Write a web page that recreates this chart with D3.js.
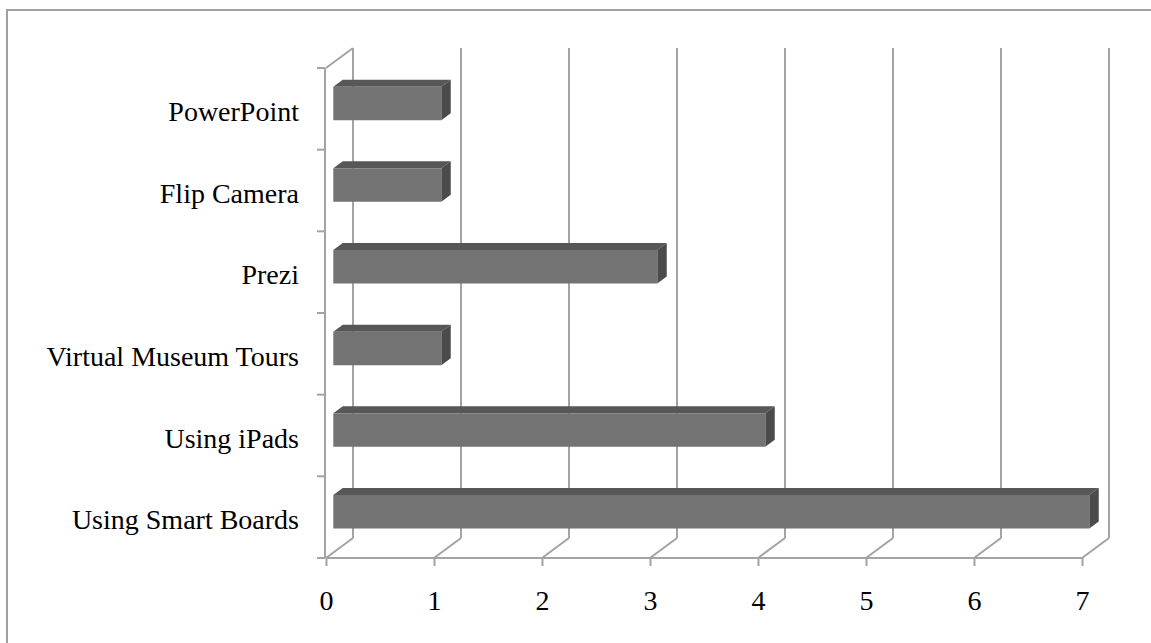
<!DOCTYPE html>
<html>
<head>
<meta charset="utf-8">
<script src="https://cdn.jsdelivr.net/npm/d3@7"></script>
<style>
html,body{margin:0;padding:0;background:#fff;}
svg{display:block;}
text{font-family:"Liberation Serif","Times New Roman",serif;fill:#000;}
</style>
</head>
<body>
<svg id="chart" width="1151" height="643"></svg>
<script>
// Data
const categories = ["PowerPoint","Flip Camera","Prezi","Virtual Museum Tours","Using iPads","Using Smart Boards"];
const values = [1, 1, 3, 1, 4, 7];
const tickValues = [0,1,2,3,4,5,6,7];

const svg = d3.select("#chart");

// layout
const x = d3.scaleLinear().domain([0,7]).range([326,1082]);
const y = d3.scaleBand().domain(categories).range([68,558]).padding(0);
const DX = 27, DY = -20;           // full depth offset (front plane -> back wall)
const z0 = 0.27, z1 = 0.62;          // bar depth span
const barFrac = 0.41;
const gridColor = "#a3a3a3";

const P = (px, py, z) => [px + DX*z, py + DY*z];

// chart border (cropped at right/bottom)
svg.append("rect").attr("x",7).attr("y",10).attr("width",1200).attr("height",700)
  .attr("fill","none").attr("stroke","#a0a0a0").attr("stroke-width",2);

const yTop = y.range()[0], yBot = y.range()[1];
const g = svg.append("g").attr("fill","none").attr("stroke",gridColor).attr("stroke-width",2);

// back wall vertical gridlines + floor diagonals
tickValues.forEach(t => {
  const a = P(x(t), yTop, 1), b = P(x(t), yBot, 1);
  g.append("line").attr("x1",a[0]).attr("y1",a[1]).attr("x2",b[0]).attr("y2",b[1]);
  const c = P(x(t), yBot, 0);
  g.append("line").attr("x1",c[0]).attr("y1",c[1]).attr("x2",b[0]).attr("y2",b[1]);
});
// left wall top edge
{
  const a = P(x(0), yTop, 0), b = P(x(0), yTop, 1);
  g.append("line").attr("x1",a[0]).attr("y1",a[1]).attr("x2",b[0]).attr("y2",b[1]);
}

// bottom axis (value axis) on front plane
const xAxis = d3.axisBottom(x).tickValues(tickValues).tickSize(8).tickFormat(d3.format("d"));
const gx = svg.append("g").attr("transform",`translate(0,${yBot})`).call(xAxis);
gx.select(".domain").attr("stroke",gridColor).attr("stroke-width",2).attr("d",`M${x(0)},0H${x(7)}`);
gx.selectAll(".tick line").attr("stroke",gridColor).attr("stroke-width",2);
gx.selectAll(".tick text").attr("font-size","28px").attr("font-family","Liberation Serif, serif")
  .attr("fill","#000").attr("y",52).attr("dy",0);

// left category axis
const gy = svg.append("g");
gy.append("line").attr("x1",x(0)-1).attr("y1",yTop).attr("x2",x(0)-1).attr("y2",yBot)
  .attr("stroke",gridColor).attr("stroke-width",2);
const boundaries = categories.map(c => y(c)).concat([yBot]);
gy.selectAll("line.tk").data(boundaries).join("line").attr("class","tk")
  .attr("x1",x(0)-9).attr("x2",x(0)-1).attr("y1",d=>d).attr("y2",d=>d)
  .attr("stroke",gridColor).attr("stroke-width",2);
gy.selectAll("text").data(categories).join("text")
  .attr("x",299).attr("y",d => y(d)+y.bandwidth()/2 + 12)
  .attr("text-anchor","end")
  .attr("font-size","28px").text(d=>d);

// bars
const bars = svg.append("g");
categories.forEach((c,i) => {
  const v = values[i];
  const bh = y.bandwidth()*barFrac;
  const yc = y(c) + y.bandwidth()/2;
  const t = yc - bh/2, b = yc + bh/2;
  const x0 = x(0), x1 = x(v);
  const f = [P(x0,t,z0),P(x1,t,z0),P(x1,b,z0),P(x0,b,z0)];
  const top = [P(x0,t,z0),P(x1,t,z0),P(x1,t,z1),P(x0,t,z1)];
  const side = [P(x1,t,z0),P(x1,t,z1),P(x1,b,z1),P(x1,b,z0)];
  const poly = pts => "M" + pts.map(p=>p.join(",")).join("L") + "Z";
  bars.append("path").attr("d",poly(top)).attr("fill","#575757");
  bars.append("path").attr("d",poly(side)).attr("fill","#4b4b4b");
  bars.append("path").attr("d",poly(f)).attr("fill","#737373");
});
</script>
</body>
</html>
